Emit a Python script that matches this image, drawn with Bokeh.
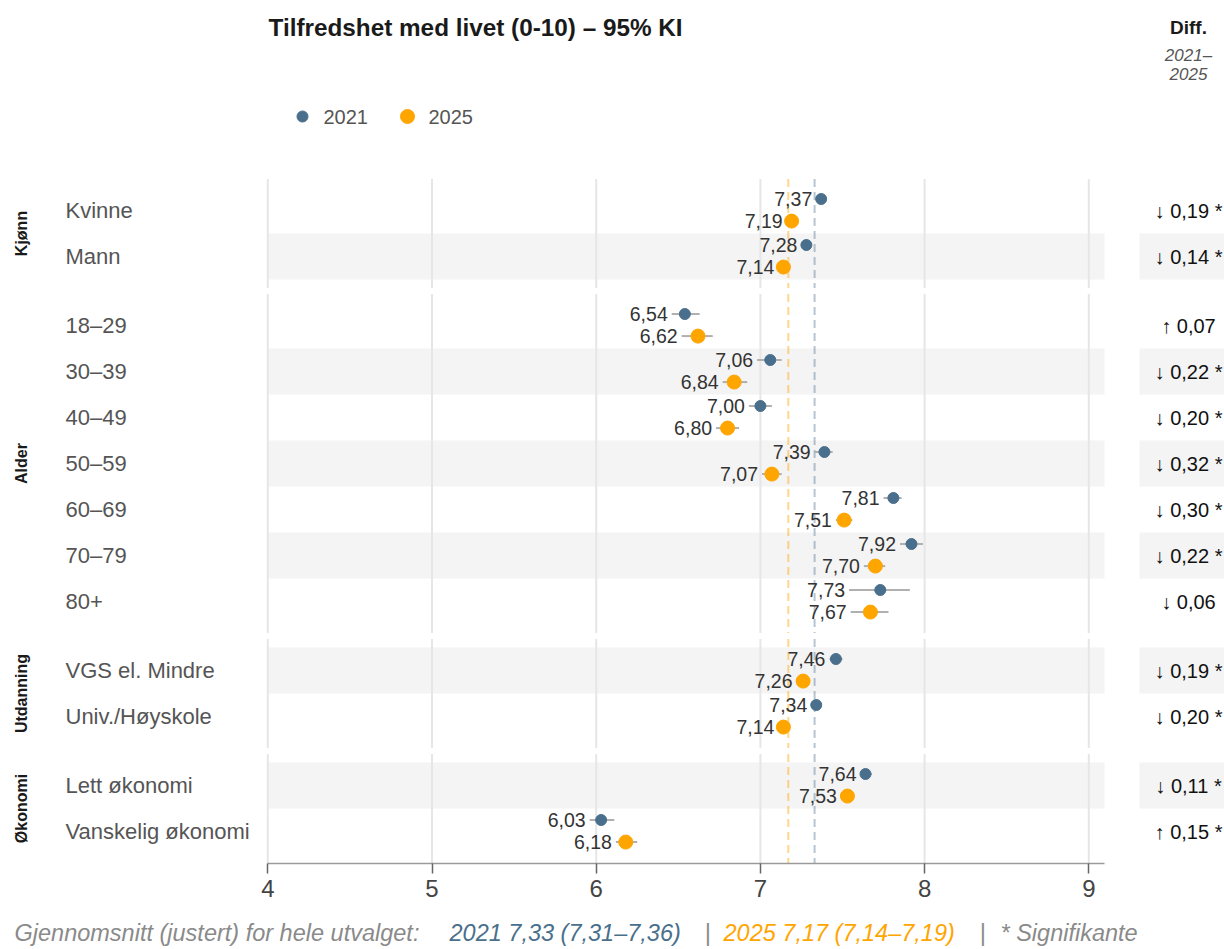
import math
from bokeh.plotting import figure
from bokeh.layouts import column
from bokeh.models import Range1d, FixedTicker
from bokeh.core.properties import value
from bokeh.embed import file_html
from bokeh.resources import INLINE

# ---------------- data ----------------
groups = ["Kjønn", "Alder", "Utdanning", "Økonomi"]
categories = ["Kvinne", "Mann", "18–29", "30–39", "40–49", "50–59", "60–69",
              "70–79", "80+", "VGS el. Mindre", "Univ./Høyskole",
              "Lett økonomi", "Vanskelig økonomi"]
category_group = ["Kjønn", "Kjønn", "Alder", "Alder", "Alder", "Alder", "Alder",
                  "Alder", "Alder", "Utdanning", "Utdanning", "Økonomi", "Økonomi"]

mean_2021 = [7.37, 7.28, 6.54, 7.06, 7.00, 7.39, 7.81, 7.92, 7.73, 7.46, 7.34, 7.64, 6.03]
lo_2021   = [7.34, 7.25, 6.46, 6.98, 6.93, 7.33, 7.75, 7.85, 7.54, 7.42, 7.31, 7.61, 5.96]
hi_2021   = [7.40, 7.31, 6.63, 7.13, 7.07, 7.44, 7.86, 7.99, 7.91, 7.50, 7.37, 7.68, 6.11]

mean_2025 = [7.19, 7.14, 6.62, 6.84, 6.80, 7.07, 7.51, 7.70, 7.67, 7.26, 7.14, 7.53, 6.18]
lo_2025   = [7.16, 7.11, 6.52, 6.77, 6.73, 7.01, 7.46, 7.63, 7.55, 7.22, 7.11, 7.49, 6.12]
hi_2025   = [7.22, 7.17, 6.71, 6.92, 6.87, 7.13, 7.56, 7.76, 7.78, 7.30, 7.17, 7.57, 6.25]

diff_values = [-0.19, -0.14, 0.07, -0.22, -0.20, -0.32, -0.30, -0.22, -0.06, -0.19, -0.20, -0.11, 0.15]
diff_significant = [True, True, False, True, True, True, True, True, False, True, True, True, True]

overall_2021 = 7.33
overall_2021_ci = (7.31, 7.36)
overall_2025 = 7.17
overall_2025_ci = (7.14, 7.19)

x_ticks = [4, 5, 6, 7, 8, 9]
series_names = ["2021", "2025"]

# ---------------- styles / layout ----------------
C21 = "#4a6f8c"
C25 = "#FFA500"
FONT = "Liberation Sans"
W = 1224
H_MAIN = 909
H_FOOT = 40
X4_PX, UNIT_PX = 267.3, 164.2      # px of x=4, px per unit
ROW0_PX, ROW_PX = 210.0, 46.0       # px of first row, px per row
FRAME_BOTTOM_PX = 863
X_END = 4 + (1104 - X4_PX) / UNIT_PX


def dx(px):
    return 4 + (px - X4_PX) / UNIT_PX


def dy(py):
    return (py - ROW0_PX) / ROW_PX


def fmt(v):
    return f"{v:.2f}".replace(".", ",")


# row positions: one row per category, half a row gap between groups
rows = [i + 0.5 * groups.index(g) for i, g in enumerate(category_group)]

p = figure(width=W, height=H_MAIN, output_backend="svg", toolbar_location=None,
           x_range=Range1d(dx(0), dx(W)),
           y_range=Range1d(dy(FRAME_BOTTOM_PX), dy(0)),
           y_axis_location=None,
           min_border_left=0, min_border_right=0, min_border_top=0,
           min_border_bottom=H_MAIN - FRAME_BOTTOM_PX)
p.outline_line_color = None
p.xgrid.visible = False
p.ygrid.visible = False
p.background_fill_color = "white"
p.border_fill_color = "white"

# x axis
ax = p.xaxis[0]
ax.ticker = FixedTicker(ticks=x_ticks)
ax.bounds = (4, X_END)
ax.axis_line_color = "#9a9a9a"
ax.axis_line_width = 1.5
ax.major_tick_line_color = "#666666"
ax.major_tick_line_width = 1.5
ax.major_tick_in = 0
ax.major_tick_out = 10
ax.minor_tick_line_color = None
ax.major_label_text_font = FONT
ax.major_label_text_font_size = "24px"
ax.major_label_text_color = "#444444"
ax.major_label_standoff = 6

# alternating bands
odd = [i for i in range(len(categories)) if i % 2 == 1]
band_y = [rows[i] for i in odd]
p.quad(left=4, right=X_END, top=[y - 0.5 for y in band_y], bottom=[y + 0.5 for y in band_y],
       fill_color="#f4f4f4", line_color=None)
p.quad(left=dx(1139), right=dx(W), top=[y - 0.5 for y in band_y], bottom=[y + 0.5 for y in band_y],
       fill_color="#f4f4f4", line_color=None)

# panel gridlines and reference lines
for g in groups:
    ys = [rows[i] for i in range(len(categories)) if category_group[i] == g]
    top, bot = min(ys) - 0.685, max(ys) + 0.685
    p.segment(x0=x_ticks, x1=x_ticks, y0=[top] * len(x_ticks), y1=[bot] * len(x_ticks),
              line_color="#e6e6e6", line_width=2)
    p.segment(x0=[overall_2025], x1=[overall_2025], y0=[top], y1=[bot],
              line_color=C25, line_alpha=0.45, line_width=2, line_dash="8 5")
    p.segment(x0=[overall_2021], x1=[overall_2021], y0=[top], y1=[bot],
              line_color=C21, line_alpha=0.4, line_width=2, line_dash="8 5")

y21 = [y - 0.25 for y in rows]
y25 = [y + 0.23 for y in rows]

# CI
p.segment(x0=lo_2021, x1=hi_2021, y0=y21, y1=y21, line_color="#b0b0b0", line_width=2)
p.segment(x0=lo_2025, x1=hi_2025, y0=y25, y1=y25, line_color="#b0b0b0", line_width=2)

# dots
p.scatter(x=mean_2021, y=y21, size=11, fill_color=C21, line_color=C21)
p.scatter(x=mean_2025, y=y25, size=14, fill_color=C25, line_color=C25)

# value labels, placed just left of the lower CI bound
p.text(x=lo_2021, y=y21, text=[fmt(v) for v in mean_2021], x_offset=-4,
       text_align="right", text_baseline="middle", text_font=value(FONT),
       text_font_size=value("19.5px"), text_color="#333333")
p.text(x=lo_2025, y=y25, text=[fmt(v) for v in mean_2025], x_offset=-4,
       text_align="right", text_baseline="middle", text_font=value(FONT),
       text_font_size=value("19.5px"), text_color="#333333")

# category labels
p.text(x=[dx(65)] * len(categories), y=rows, text=categories, text_align="left",
       text_baseline="middle", text_font=value(FONT), text_font_size=value("22px"),
       text_color="#555555")

# group labels
gy = []
for g in groups:
    ys = [rows[i] for i in range(len(categories)) if category_group[i] == g]
    gy.append(sum(ys) / len(ys))
p.text(x=[dx(21)] * len(groups), y=gy, text=groups, angle=math.pi / 2,
       text_align="center", text_baseline="middle", text_font=value(FONT),
       text_font_style="bold", text_font_size=value("16px"), text_color="#1a1a1a")

# diff column
diff_text = []
for d, s in zip(diff_values, diff_significant):
    arrow = "↑" if d > 0 else "↓"
    diff_text.append(f"{arrow} {fmt(abs(d))}" + (" *" if s else ""))
p.text(x=[dx(1188)] * len(categories), y=rows, text=diff_text, text_align="center",
       text_baseline="middle", text_font=value(FONT), text_font_size=value("20px"),
       text_color="#111111")

# header: title, diff header, legend
p.text(x=[dx(268)], y=[dy(27)], text=["Tilfredshet med livet (0-10) – 95% KI"],
       text_align="left", text_baseline="middle", text_font=value(FONT),
       text_font_style="bold", text_font_size=value("24.3px"), text_color="#1a1a1a")
p.text(x=[dx(1188)], y=[dy(27)], text=["Diff."], text_align="center", text_baseline="middle",
       text_font=value(FONT), text_font_style="bold", text_font_size=value("19px"),
       text_color="#1a1a1a")
p.text(x=[dx(1188), dx(1188)], y=[dy(55), dy(73)], text=["2021–", "2025"],
       text_align="center", text_baseline="middle", text_font=value(FONT),
       text_font_style="italic", text_font_size=value("17px"), text_color="#555555")

p.scatter(x=[dx(302)], y=[dy(116)], size=11, fill_color=C21, line_color=C21)
p.scatter(x=[dx(407)], y=[dy(116)], size=14, fill_color=C25, line_color=C25)
p.text(x=[dx(323), dx(428)], y=[dy(116), dy(116)], text=series_names, text_align="left",
       text_baseline="middle", text_font=value(FONT), text_font_size=value("20px"),
       text_color="#555555")

# footer (separate strip below the axis)
f = figure(width=W, height=H_FOOT, output_backend="svg", toolbar_location=None,
           x_range=Range1d(0, W), y_range=Range1d(H_FOOT, 0),
           x_axis_location=None, y_axis_location=None,
           min_border_left=0, min_border_right=0, min_border_top=0, min_border_bottom=0)
f.outline_line_color = None
f.xgrid.visible = False
f.ygrid.visible = False
f.border_fill_color = "white"

foot_y = 932 - H_MAIN
parts = [
    (14, "Gjennomsnitt (justert) for hele utvalget:", "#8a8a8a"),
    (449, f"2021 {fmt(overall_2021)} ({fmt(overall_2021_ci[0])}–{fmt(overall_2021_ci[1])})", C21),
    (704, "|", "#8a8a8a"),
    (723, f"2025 {fmt(overall_2025)} ({fmt(overall_2025_ci[0])}–{fmt(overall_2025_ci[1])})", C25),
    (979, "|", "#8a8a8a"),
    (1000, "* Signifikante", "#8a8a8a"),
]
f.text(x=[pt[0] for pt in parts], y=[foot_y] * len(parts), text=[pt[1] for pt in parts],
       text_color=[pt[2] for pt in parts], text_align="left", text_baseline="middle",
       text_font=value(FONT), text_font_style="italic", text_font_size=value("23.5px"))

layout = column(p, f, spacing=0)
open("out.html", "w").write(file_html(layout, INLINE))
